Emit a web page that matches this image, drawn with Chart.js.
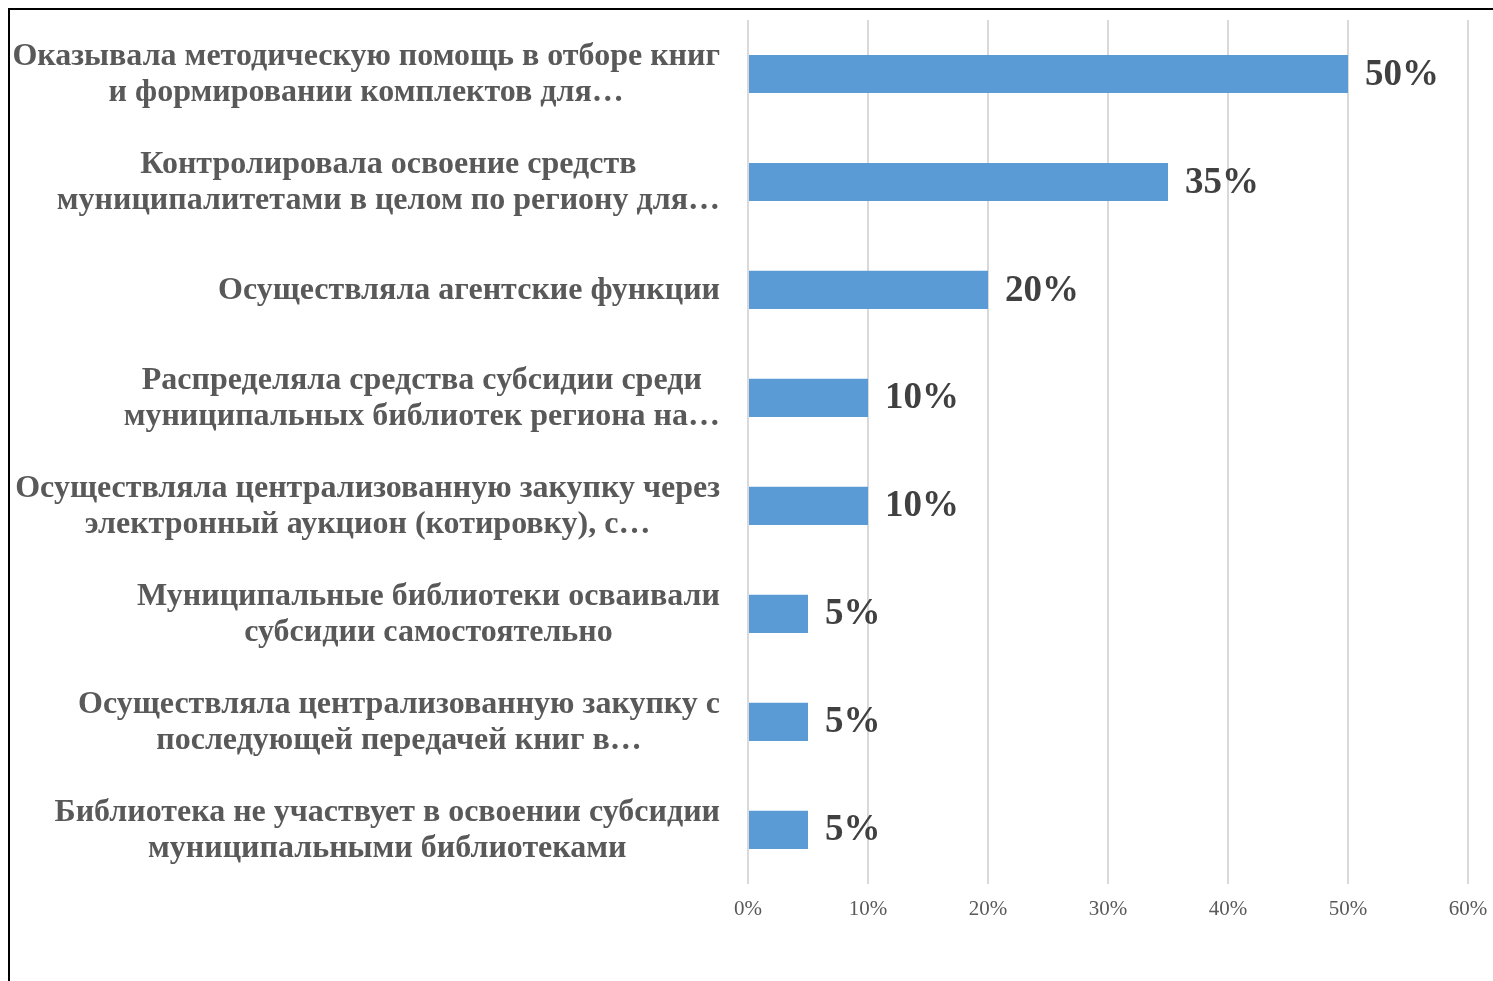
<!DOCTYPE html>
<html>
<head>
<meta charset="utf-8">
<script src="https://cdn.jsdelivr.net/npm/chart.js@4"></script>
<style>
    html, body { margin: 0; padding: 0; background: #fff; overflow: hidden; }
    #frame {
        position: absolute; left: 8px; top: 8px; width: 1600px; height: 1100px;
        border-left: 2px solid #000; border-top: 2px solid #000;
    }
    #wrap { position: absolute; left: 0; top: 0; width: 1493px; height: 981px; }
</style>
</head>
<body>
<div id="frame"></div>
<div id="wrap"><canvas id="chart"></canvas></div>
<script>
// категории (строки подписи)
const categories = [
    ['Оказывала методическую помощь в отборе книг', 'и формировании комплектов для…'],
    ['Контролировала освоение средств', 'муниципалитетами в целом по региону для…'],
    ['Осуществляла агентские функции'],
    ['Распределяла средства субсидии среди', 'муниципальных библиотек региона на…'],
    ['Осуществляла централизованную закупку через', 'электронный аукцион (котировку), с…'],
    ['Муниципальные библиотеки осваивали', 'субсидии самостоятельно'],
    ['Осуществляла централизованную закупку с', 'последующей передачей книг в…'],
    ['Библиотека не участвует в освоении субсидии', 'муниципальными библиотеками']
];
const values = [50, 35, 20, 10, 10, 5, 5, 5];
const xTicks = [0, 10, 20, 30, 40, 50, 60];

// подписи категорий и значений рисуем сами
const labelPlugin = {
    id: 'labelPlugin',
    afterDraw(chart) {
        const ctx = chart.ctx;
        const y = chart.scales.y;
        const meta = chart.getDatasetMeta(0);
        ctx.save();
        ctx.textBaseline = 'middle';
        // строки по центру блока, блок прижат вправо
        ctx.font = 'bold 32px "Liberation Serif"';
        ctx.fillStyle = '#595959';
        ctx.textAlign = 'center';
        const right = 720;
        categories.forEach((lines, i) => {
            const cy = y.getPixelForValue(i);
            let w = 0;
            lines.forEach(l => { w = Math.max(w, ctx.measureText(l).width); });
            const cx = right - w / 2;
            const lh = 36;
            lines.forEach((l, j) => {
                const ly = cy + (j - (lines.length - 1) / 2) * lh + 1;
                ctx.fillText(l, cx, ly);
            });
        });
        // значения
        ctx.font = 'bold 37px "Liberation Serif"';
        ctx.fillStyle = '#404040';
        ctx.textAlign = 'left';
        meta.data.forEach((bar, i) => {
            ctx.fillText(values[i] + '%', bar.x + 17, bar.y + 1);
        });
        ctx.restore();
    }
};

new Chart(document.getElementById('chart'), {
    type: 'bar',
    data: {
        labels: categories,
        datasets: [{
            data: values,
            backgroundColor: '#5b9bd5',
            borderWidth: 0,
            barPercentage: 0.7,
            categoryPercentage: 0.505
        }]
    },
    options: {
        indexAxis: 'y',
        responsive: true,
        maintainAspectRatio: false,
        animation: false,
        layout: { padding: { left: 740, right: 25, top: 20, bottom: 46 } },
        plugins: { legend: { display: false }, tooltip: { enabled: false } },
        scales: {
            x: {
                min: 0, max: 60,
                afterBuildTicks: axis => { axis.ticks = xTicks.map(v => ({ value: v })); },
                afterFit: axis => { axis.paddingLeft = 0; axis.paddingRight = 0; },
                grid: { color: '#d9d9d9', lineWidth: 2, drawTicks: false },
                border: { display: false },
                ticks: {
                    padding: 13,
                    color: '#595959',
                    font: { family: '"Liberation Serif"', size: 21 },
                    callback: v => v + '%'
                }
            },
            y: {
                grid: { display: false },
                border: { display: false },
                ticks: { display: false }
            }
        }
    },
    plugins: [labelPlugin]
});
</script>
</body>
</html>
